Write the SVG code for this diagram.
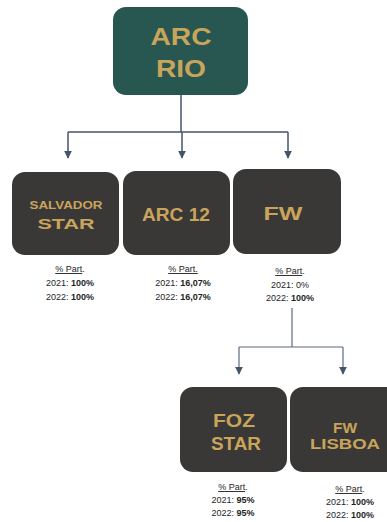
<svg xmlns="http://www.w3.org/2000/svg" width="387" height="522" viewBox="0 0 387 522">
<style>
.box{fill:#3a3837}
.root{fill:#285650}
.t{font-family:"Liberation Sans",Arial,sans-serif;font-weight:bold;fill:#c9a45b;text-anchor:middle}
.p{font-family:"Liberation Sans",Arial,sans-serif;font-size:9px;fill:#1e1e1e;text-anchor:middle}
.b{font-weight:bold}
.u{text-decoration:underline}
.c{fill:none;stroke:#44546a;stroke-width:1.5}
.c2{fill:none;stroke:#5a6a82;stroke-width:1.2}
</style>
<defs>
<marker id="ah" viewBox="0 0 10 10" refX="9" refY="5" markerWidth="8" markerHeight="8" markerUnits="userSpaceOnUse" orient="auto">
<path d="M0,0 L10,5 L0,10 Z" fill="#44546a"/>
</marker>
</defs>
<g id="connectors">
<path class="c" d="M181,95 V132"/>
<path class="c" d="M68,132 H288"/>
<path class="c" d="M68,132 V158" marker-end="url(#ah)"/>
<path class="c" d="M182,132 V158" marker-end="url(#ah)"/>
<path class="c" d="M288,132 V158" marker-end="url(#ah)"/>
<path class="c2" d="M292,308 V347"/>
<path class="c2" d="M239,347 H343"/>
<path class="c2" d="M239,347 V374" marker-end="url(#ah)"/>
<path class="c2" d="M343,347 V374" marker-end="url(#ah)"/>
</g>
<g id="arc-rio">
<rect class="root" x="113" y="7" width="135" height="88" rx="13"/>
<text class="t" x="181" y="45" font-size="24" textLength="61" lengthAdjust="spacingAndGlyphs">ARC</text>
<text class="t" x="181" y="77" font-size="24" textLength="50" lengthAdjust="spacingAndGlyphs">RIO</text>
</g>
<g id="salvador-star">
<rect class="box" x="12" y="172" width="107" height="83" rx="13"/>
<text class="t" x="66" y="209" font-size="10.5" textLength="73" lengthAdjust="spacingAndGlyphs">SALVADOR</text>
<text class="t" x="66" y="229" font-size="15" textLength="57" lengthAdjust="spacingAndGlyphs">STAR</text>
<text class="p" x="70" y="272"><tspan class="u">% Part</tspan>.</text>
<text class="p" x="70" y="286">2021: <tspan class="b">100%</tspan></text>
<text class="p" x="70" y="300">2022: <tspan class="b">100%</tspan></text>
</g>
<g id="arc-12">
<rect class="box" x="123" y="171" width="107" height="84" rx="13"/>
<text class="t" x="176" y="221" font-size="17.5" textLength="68" lengthAdjust="spacingAndGlyphs">ARC 12</text>
<text class="p" x="183" y="272"><tspan class="u">% Part.</tspan></text>
<text class="p" x="183" y="286">2021: <tspan class="b">16,07%</tspan></text>
<text class="p" x="183" y="300">2022: <tspan class="b">16,07%</tspan></text>
</g>
<g id="fw">
<rect class="box" x="233" y="169" width="108" height="85" rx="13"/>
<text class="t" x="283" y="220" font-size="17.5" textLength="39" lengthAdjust="spacingAndGlyphs">FW</text>
<text class="p" x="290" y="274"><tspan class="u">% Part</tspan>.</text>
<text class="p" x="290" y="288">2021: 0%</text>
<text class="p" x="290" y="301">2022: <tspan class="b">100%</tspan></text>
</g>
<g id="foz-star">
<rect class="box" x="180" y="387" width="107" height="85" rx="13"/>
<text class="t" x="234" y="427" font-size="18.5" textLength="42" lengthAdjust="spacingAndGlyphs">FOZ</text>
<text class="t" x="236" y="450" font-size="18.5" textLength="50" lengthAdjust="spacingAndGlyphs">STAR</text>
<text class="p" x="233" y="490"><tspan class="u">% Part</tspan>.</text>
<text class="p" x="233" y="503">2021: <tspan class="b">95%</tspan></text>
<text class="p" x="233" y="516">2022: <tspan class="b">95%</tspan></text>
</g>
<g id="fw-lisboa">
<rect class="box" x="290" y="387" width="110" height="85" rx="13"/>
<text class="t" x="345" y="433" font-size="14" textLength="24" lengthAdjust="spacingAndGlyphs">FW</text>
<text class="t" x="345" y="449" font-size="14" textLength="70" lengthAdjust="spacingAndGlyphs">LISBOA</text>
<text class="p" x="350" y="492"><tspan class="u">% Part</tspan>.</text>
<text class="p" x="350" y="505">2021: <tspan class="b">100%</tspan></text>
<text class="p" x="350" y="518">2022: <tspan class="b">100%</tspan></text>
</g>
</svg>
